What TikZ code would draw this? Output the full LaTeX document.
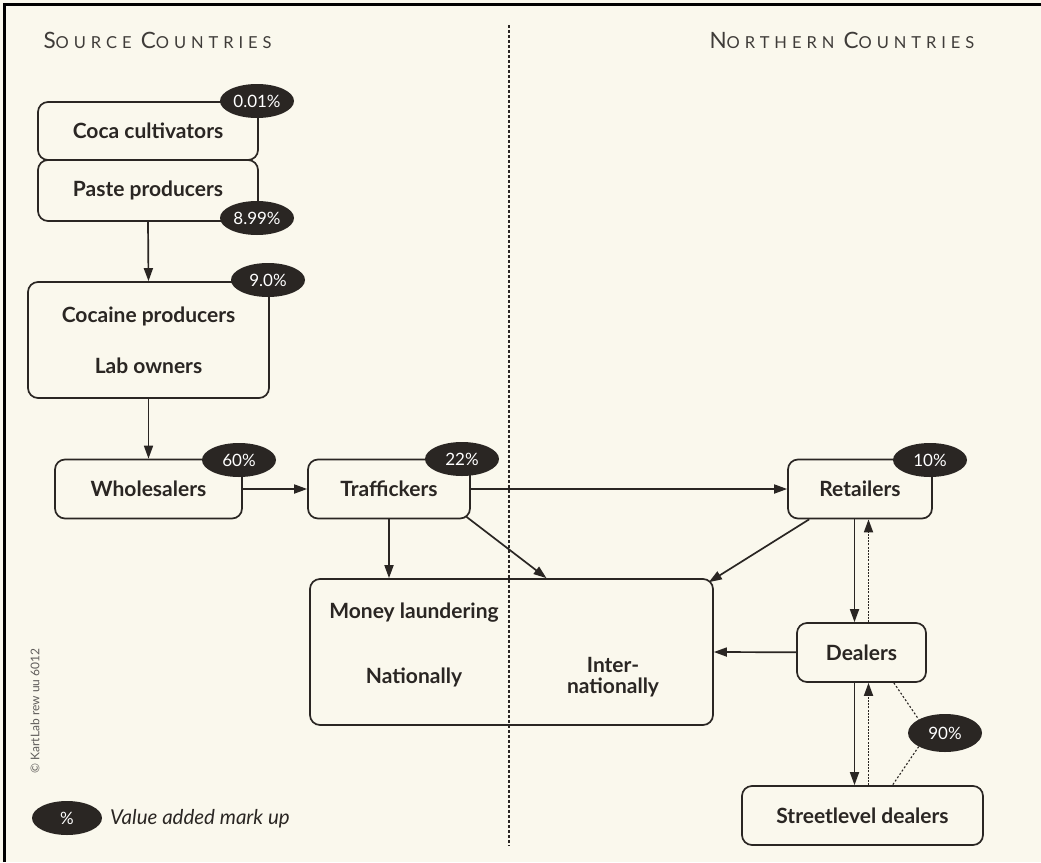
\documentclass[tikz,border=0pt]{standalone}
\usepackage{fontspec}
\setmainfont{Lato}
\usetikzlibrary{positioning,shapes.geometric,arrows.meta}
\usepackage{xcolor}
\definecolor{paper}{RGB}{250,248,237}
\definecolor{ink}{RGB}{42,38,35}
\newcommand{\initcap}[1]{{\fontsize{22.5}{22}\selectfont #1}}

\begin{document}
\begin{tikzpicture}[x=1pt, y=-1pt,
    every node/.style={text=ink, font=\bfseries\fontsize{21}{21}\selectfont}, % General text
    actor/.style={draw=ink, line width=1.7pt, rounded corners=10pt, align=center, inner sep=0pt}, % Market level
    badge/.style={ellipse, fill=ink, draw=none, minimum width=74pt, minimum height=34pt, inner sep=0pt, text=white, font=\fontsize{17}{17}\selectfont}, % Mark up
    head/.style={anchor=base west, text=ink!90, font=\fontsize{16.5}{17}\selectfont\addfontfeatures{LetterSpace=30}}, % Region title
    flow/.style={draw=ink, line width=1.7pt, -{Triangle[length=13pt,width=9pt]}}, % Trade
    back/.style={flow, dash pattern=on 2pt off 1.2pt}, % Money back
    hint/.style={draw=ink, line width=1.1pt, dash pattern=on 2pt off 2pt} % Badge pointer
]
\useasboundingbox (0,0) rectangle (1041,862);
% paper and frame
\path[fill=paper] (0,0) rectangle (1041,862);
\draw[black, line width=3pt] (4,862) -- (4,4) -- (1041,4);
\draw[ink, line width=2pt, dash pattern=on 3pt off 2pt] (509,25) -- (509,846);

% titles
\node[head] (src) at (40,48) {\initcap{S}OURCE \initcap{C}OUNTRIES};
\node[head] (nrt) at (706,48) {\initcap{N}ORTHERN \initcap{C}OUNTRIES};

% market levels
\node[actor, minimum width=220pt, minimum height=58pt] (cult) at (148,131) {Coca cultivators};
\node[actor, minimum width=220pt, minimum height=61pt] (paste) at (148,190.5) {Paste producers};
\node[actor, minimum width=241pt, minimum height=116pt] (coca) at (148.5,340) {Cocaine producers\\[30pt]Lab owners};
\node[actor, minimum width=187pt, minimum height=59pt] (whole) at (148.5,489) {Wholesalers};
\node[actor, minimum width=162pt, minimum height=59pt] (traff) at (389,489) {Traffickers};
\node[actor, minimum width=144pt, minimum height=59pt] (retail) at (860,489) {Retailers};
\node[actor, minimum width=403pt, minimum height=146pt] (money) at (511.5,652) {};
\node[actor, minimum width=129pt, minimum height=59pt] (deal) at (861.5,652.5) {Dealers};
\node[actor, minimum width=241pt, minimum height=59pt] (street) at (862.5,815.5) {Streetlevel dealers};

% money laundering texts
\node (laund) at (414,613) {Money laundering};
\node (natl) at (414,677) {Nationally};
\node[align=center, font=\bfseries\fontsize{21}{21}\selectfont] (intl) at (613,677) {Inter-\\nationally};

% trade flows
\draw[flow] (paste.south) -- (coca.north);
\draw[flow] (coca.south) -- (coca.south |- whole.north);
\draw[flow] (whole) -- (traff);
\draw[flow] (traff) -- (retail);
\draw[flow] (traff.south) -- (traff.south |- money.north);
\draw[flow] ([xshift=-5pt,yshift=3pt]traff.south east) -- ([xshift=35pt]money.north);
\draw[flow] ([xshift=22pt]retail.south west) -- ([xshift=-5pt,yshift=-4pt]money.north east);
\draw[flow] (deal) -- (money.east);
\draw[flow] ([xshift=-7pt]retail.south -| deal.north) -- ([xshift=-7pt]deal.north);
\draw[back] ([xshift=7pt]deal.north) -- ([xshift=7pt]deal.north |- retail.south);
\draw[flow] ([xshift=-7pt]deal.south) -- ([xshift=-7pt]deal.south |- street.north);
\draw[back] ([xshift=7pt]deal.south |- street.north) -- ([xshift=7pt]deal.south);

% mark ups
\node[badge] (b1) at (257,101) {0.01\%};
\node[badge] (b2) at (257,218) {8.99\%};
\node[badge] (b3) at (268,280) {9.0\%};
\node[badge] (b4) at (239,460) {60\%};
\node[badge] (b5) at (462,459) {22\%};
\node[badge] (b6) at (930,460) {10\%};
\node[badge, minimum height=38pt] (b7) at (945,733) {90\%};
\draw[hint] ([xshift=-33pt]deal.south east) -- (b7.north west);
\draw[hint] (b7.south west) -- ([xshift=30pt]street.north);

% legend
\node[badge, minimum width=70pt] (key) at (67,818) {\%};
\node[anchor=west, inner sep=0pt, font=\itshape\fontsize{20.5}{21}\selectfont] (keytxt) at (110,819) {Value added mark up};
\node[rotate=90, text=ink!75, font=\fontsize{12}{12}\selectfont] (copy) at (35,711) {© KartLab rew uu 6012};
\end{tikzpicture}
\end{document}
